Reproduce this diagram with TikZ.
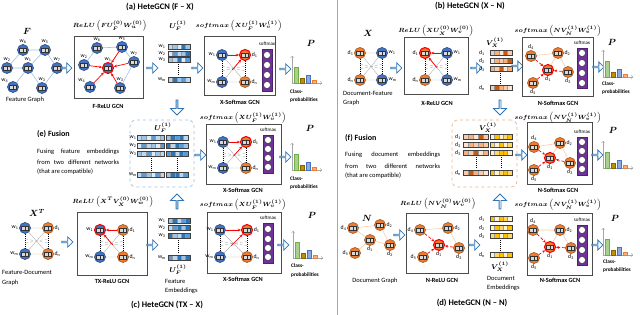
\documentclass[tikz,border=0pt]{standalone}
\usepackage{fontspec}
\setmainfont{Carlito}
\usepackage{amsmath,bm}
\usetikzlibrary{shapes.arrows,arrows.meta,calc}
\definecolor{nblue}{HTML}{4472C4}
\definecolor{nbluedk}{HTML}{2F528F}
\definecolor{norange}{HTML}{ED7D31}
\definecolor{norangedk}{HTML}{AE5A21}
\definecolor{arrblue}{HTML}{2E75B6}
\definecolor{smpurple}{HTML}{7030A0}
\definecolor{ub0}{HTML}{DEEBF7}
\definecolor{ub1}{HTML}{BDD7EE}
\definecolor{ub2}{HTML}{9DC3E6}
\definecolor{ub3}{HTML}{5B9BD5}
\definecolor{ub4}{HTML}{2E75B6}
\definecolor{op0}{HTML}{FBE5D6}
\definecolor{op1}{HTML}{F8CBAD}
\definecolor{op2}{HTML}{F4B183}
\definecolor{op3}{HTML}{C55A11}
\definecolor{yl0}{HTML}{FFF2CC}
\definecolor{yl2}{HTML}{FFD966}
\definecolor{yl3}{HTML}{FFC000}
\definecolor{bgreen}{HTML}{A9D18E}
\definecolor{bgreendk}{HTML}{70AD47}
\definecolor{bbrown}{HTML}{BF9000}
\definecolor{bblue}{HTML}{8FAADC}
\definecolor{borange}{HTML}{F4B183}
\newcommand\wsb[1]{w\textsubscript{#1}}
\newcommand\dsb[1]{d\textsubscript{#1}}
\newcommand\mrow[5]{%
  \foreach \mycol [count=\myi from 0] in {#5} {\filldraw[fill=\mycol,draw=black!40,line width=0.25pt] ({#1+\myi*#3},{#2-2.5}) rectangle ++(#3,5);}
  \draw[black!75,line width=0.4pt] ({#1},{#2-2.5}) rectangle ++({#3*#4},5);}
\newcommand\pchart[2]{%
  \draw[gray!70,line width=0.4pt,-{Straight Barb[length=1.5pt]}] (#1,#2) -- (#1,#2-27);
  \draw[gray!70,line width=0.4pt,-{Straight Barb[length=1.5pt]}] (#1,#2) -- (#1+30,#2);
  \filldraw[fill=bgreen,draw=bgreendk,line width=0.4pt] (#1+2,#2) rectangle (#1+6,#2-16);
  \filldraw[fill=bbrown,draw=bbrown!70!black,line width=0.4pt] (#1+8,#2) rectangle (#1+12,#2-5);
  \filldraw[fill=bblue,draw=nblue,line width=0.4pt] (#1+14,#2) rectangle (#1+18,#2-8);
  \filldraw[fill=borange,draw=norange,line width=0.4pt] (#1+20,#2) rectangle (#1+24,#2-3);}
\newcommand\bip[4]{%
  \draw[bedge] (#1) -- (#2) (#3) -- (#4) (#1) -- (#4) (#3) -- (#2);
  \draw[dotl] (#1) -- (#3) (#2) -- (#4);
  \draw[bedge,densely dashed] ($(#1)!0.42!(#3)$) -- ($(#2)!0.58!(#4)$) ($(#1)!0.58!(#3)$) -- ($(#2)!0.42!(#4)$);}
\tikzset{
  gnode/.style={circle,inner sep=0pt,minimum size=11pt,line width=0.7pt,
    path picture={\filldraw[fill=gray!30,draw=black!80,line width=0.45pt]
      ([xshift=-3.3pt,yshift=-1.9pt]path picture bounding box.center) rectangle ([xshift=3.3pt,yshift=1.9pt]path picture bounding box.center);
      \draw[black!80,line width=0.45pt] ([yshift=-1.9pt]path picture bounding box.center) -- ([yshift=1.9pt]path picture bounding box.center);}},
  bnd/.style={gnode,fill=nblue,draw=nbluedk},
  ond/.style={gnode,fill=norange,draw=norangedk},
  ring/.style={draw=red,line width=1.1pt},
  lbl/.style={font=\fontsize{5.8}{6}\selectfont,inner sep=0.6pt},
  txt/.style={font=\fontsize{6.5}{7.5}\selectfont,inner sep=0pt},
  tiny/.style={font=\fontsize{5}{6}\selectfont,inner sep=0pt},
  ttl/.style={font=\fontsize{8.5}{10}\selectfont\bfseries,inner sep=0pt},
  sec/.style={font=\fontsize{8}{9}\selectfont\bfseries,inner sep=0pt,anchor=west},
  blab/.style={font=\fontsize{6.3}{7}\selectfont\bfseries,inner sep=0pt},
  clab/.style={font=\fontsize{5.3}{6}\selectfont\bfseries,inner sep=0pt,anchor=west},
  fml/.style={font=\fontsize{6.2}{7}\selectfont,inner sep=0pt},
  mtl/.style={font=\fontsize{7.3}{8}\selectfont,inner sep=0pt},
  mlab/.style={font=\fontsize{9}{10}\selectfont,inner sep=0pt},
  gbox/.style={rectangle,draw=black!70,line width=1pt,inner sep=0pt},
  fusb/.style={rectangle,rounded corners=6pt,dashed,line width=0.7pt,inner sep=0pt},
  harr/.style={single arrow,draw=arrblue,fill=white,line width=0.8pt,minimum height=11pt,minimum width=10pt,single arrow head extend=2.5pt,inner sep=0pt},
  bigarr/.style={single arrow,draw=arrblue,fill=white,line width=0.8pt,minimum height=15pt,minimum width=13pt,single arrow head extend=2.5pt,inner sep=0pt},
  smcol/.style={rectangle,fill=smpurple,draw=smpurple!70!black,line width=0.5pt,inner sep=0pt},
  smc/.style={circle,fill=white,draw=black!80,line width=0.5pt,minimum size=7pt,inner sep=0pt},
  fedge/.style={draw=ub2,line width=0.6pt},
  dedge/.style={draw=op1,line width=0.6pt},
  bedge/.style={draw=gray!60,line width=0.4pt},
  dotl/.style={draw=black,line width=1pt,dash pattern=on 1pt off 1pt},
  redarr/.style={draw=red,line width=0.7pt,-{Stealth[length=3pt,width=2.6pt]}},
}
\begin{document}
\begin{tikzpicture}[x=1pt,y=-1pt]
\fill[white] (0,0) rectangle (640,315);
\useasboundingbox (0,0) rectangle (640,315);
\draw[gray!70,line width=0.8pt] (337,0) -- (337,315);

%%%%%%%% (a)
\node[ttl] (ta) at (160,7) {(a) HeteGCN (F – X)};
\node[mlab] (Fa) at (27,31) {$\bm{F}$};
\node[bnd,label={[lbl]above:\wsb{6}}] (fa1) at (23,50) {};
\node[bnd,label={[lbl]above:\wsb{5}}] (fa2) at (45,50) {};
\node[bnd,label={[lbl]above:\wsb{2}}] (fa3) at (7,68) {};
\node[bnd,label={[lbl]above:\wsb{1}}] (fa4) at (28,68) {};
\node[bnd,label={[lbl]above:\wsb{7}}] (fa5) at (57,68) {};
\node[bnd,label={[lbl]above left:\wsb{4}}] (fa6) at (13,87) {};
\node[bnd,label={[lbl]above:\wsb{3}}] (fa7) at (42,88) {};
\draw[fedge] (fa1) -- (fa2) (fa1) -- (fa3) (fa3) -- (fa4) (fa4) -- (fa2) (fa4) -- (fa6) (fa4) -- (fa7) (fa7) -- (fa5) (fa2) -- (fa5);
\node[txt] (fgt) at (25,100) {Feature Graph};
\node[harr] (aa1) at (66,68) {};
\node[gbox,minimum width=69pt,minimum height=62pt] (ba1) at (108.5,68) {};
\node[fml] (ba1f) at (110,26) {$\bm{ReLU}\left(\bm{FU_F^{(0)}W_u^{(0)}}\right)$};
\node[blab] (ba1l) at (108,106) {F-ReLU GCN};
\node[bnd,label={[lbl]above:\wsb{6}}] (f1) at (97,48) {};
\node[bnd,label={[lbl]above:\wsb{5}}] (f2) at (122,47) {};
\node[bnd,label={[lbl]above:\wsb{2}}] (f3) at (84,65) {};
\node[bnd,ring,label={[lbl]above:\wsb{1}}] (fc) at (108,68) {};
\node[bnd,label={[lbl]above:\wsb{7}}] (f5) at (134,62) {};
\node[bnd,label={[lbl]above left:\wsb{4}}] (f6) at (90,87) {};
\node[bnd,label={[lbl]above:\wsb{3}}] (f7) at (120,88) {};
\draw[fedge] (f1) -- (f2) (f1) -- (f3) (f2) -- (f5) (f5) -- (f7);
\draw[redarr] (f3) -- (fc);
\draw[redarr] (f2) -- (fc);
\draw[redarr] (f6) -- (fc);
\draw[redarr] (f7) -- (fc);
\draw[redarr] (f5) -- (fc);
\node[harr] (aa2) at (152,68) {};
\node[mtl] (ua) at (178,26) {$\bm{U_F^{(1)}}$};
\node[lbl] (ua1) at (162,47) {\wsb{1}};
\node[lbl] (ua2) at (162,53.5) {\wsb{2}};
\node[lbl] (ua3) at (162,60) {\wsb{3}};
\node[lbl] (uam) at (162,80) {\wsb{m}};
\mrow{168}{47}{4.4}{5}{ub1,ub2,ub0,ub4,ub2}
\mrow{168}{53.5}{4.4}{5}{ub0,ub3,ub1,ub2,ub4}
\mrow{168}{60}{4.4}{5}{ub2,ub1,ub4,ub0,ub3}
\mrow{168}{80}{4.4}{5}{ub1,ub4,ub2,ub3,ub1}
\draw[dotl] (178,64) -- (178,76);
\node[bigarr,shape border rotate=270] (aa3) at (177,107) {};
\node[harr] (aa4) at (197,68) {};
\node[gbox,minimum width=71pt,minimum height=59pt] (ba2) at (239.5,66.5) {};
\node[fml] (ba2f) at (239,26) {$\bm{softmax}\left(\bm{XU_F^{(1)}W_v^{(1)}}\right)$};
\node[blab] (ba2l) at (240,102) {X-Softmax GCN};
\node[bnd,label={[lbl]left:\wsb{1}}] (xa1) at (222,55) {};
\node[ond,ring,label={[lbl]right:\dsb{1}}] (xa2) at (245,55) {};
\node[bnd,label={[lbl]left:\wsb{m}}] (xa3) at (222,82) {};
\node[ond,label={[lbl]right:\dsb{n}}] (xa4) at (245,82) {};
\bip{xa1}{xa2}{xa3}{xa4}
\draw[redarr] (xa1) -- (xa2);
\draw[redarr,shorten <=10pt] (xa3) -- (xa2);
\node[smcol,minimum width=10pt,minimum height=42pt] (sma) at (267,70) {};
\node[tiny] (smat) at (267,44) {softmax};
\node[smc] (sma1) at (267,55) {};
\node[smc] (sma2) at (267,65) {};
\node[smc] (sma3) at (267,75) {};
\node[smc] (sma4) at (267,85) {};
\node[harr] (aa5) at (285,69) {};
\pchart{292}{83}
\node[mlab] (Pa) at (311,43) {$\bm{P}$};
\node[clab] (ca1) at (290,92) {Class-};
\node[clab] (ca2) at (290,100) {probabilities};

%%%%%%%% (e)
\node[sec] (te) at (37,134) {(e) Fusion};
\node[txt,anchor=west] (te1) at (37,152) {\makebox[82pt][s]{Fusing feature embeddings}};
\node[txt,anchor=west] (te2) at (37,162) {\makebox[82pt][s]{from two different networks}};
\node[txt,anchor=west] (te3) at (37,172) {(that are compatible)};
\node[fusb,draw=ub2,minimum width=64pt,minimum height=67pt] (fe) at (162,153.5) {};
\node[mtl] (ue) at (163,128) {$\bm{U_F^{(1)}}$};
\node[lbl] (ue1) at (133,138) {\wsb{1}};
\node[lbl] (ue2) at (133,146) {\wsb{2}};
\node[lbl] (ue3) at (133,154) {\wsb{3}};
\node[lbl] (uem) at (133,175) {\wsb{m}};
\mrow{137}{138}{4.6}{6}{ub1,ub2,ub0,ub3,ub1,ub2}
\mrow{166}{138}{4.4}{5}{ub2,ub4,ub3,ub4,ub1}
\mrow{137}{146}{4.6}{6}{ub0,ub3,ub1,ub2,ub0,ub3}
\mrow{166}{146}{4.4}{5}{ub4,ub1,ub4,ub3,ub2}
\mrow{137}{154}{4.6}{6}{ub2,ub1,ub3,ub0,ub2,ub1}
\mrow{166}{154}{4.4}{5}{ub3,ub4,ub1,ub4,ub3}
\mrow{137}{175}{4.6}{6}{ub1,ub3,ub2,ub0,ub3,ub1}
\mrow{166}{175}{4.4}{5}{ub2,ub4,ub4,ub1,ub3}
\draw[dotl] (151,158) -- (151,171);
\draw[dotl] (177,158) -- (177,171);
\node[bigarr,shape border rotate=90] (ae1) at (177,202) {};
\node[harr] (ae2) at (200,155) {};
\node[gbox,minimum width=75pt,minimum height=60pt] (be) at (243.5,155) {};
\node[fml] (bef) at (243,118) {$\bm{softmax}\left(\bm{XU_F^{(1)}W_v^{(1)}}\right)$};
\node[blab] (bel) at (243,190) {X-Softmax GCN};
\node[bnd,label={[lbl]left:\wsb{1}}] (xe1) at (223,142) {};
\node[ond,ring,label={[lbl]right:\dsb{1}}] (xe2) at (246,142) {};
\node[bnd,label={[lbl]left:\wsb{m}}] (xe3) at (223,168) {};
\node[ond,label={[lbl]right:\dsb{n}}] (xe4) at (246,168) {};
\bip{xe1}{xe2}{xe3}{xe4}
\draw[redarr] (xe1) -- (xe2);
\draw[redarr,shorten <=10pt] (xe3) -- (xe2);
\node[smcol,minimum width=10pt,minimum height=38pt] (sme) at (268,154) {};
\node[tiny] (smet) at (268,130) {softmax};
\node[smc] (sme1) at (268,140) {};
\node[smc] (sme2) at (268,149) {};
\node[smc] (sme3) at (268,158) {};
\node[smc] (sme4) at (268,167) {};
\node[harr] (ae3) at (285,157) {};
\pchart{292}{170}
\node[mlab] (Pe) at (310,128) {$\bm{P}$};
\node[clab] (ce1) at (290,179) {Class-};
\node[clab] (ce2) at (290,187) {probabilities};

%%%%%%%% (c)
\node[mlab] (XT) at (37,213) {$\bm{X^T}$};
\node[bnd,label={[lbl]left:\wsb{1}}] (cw1) at (25,228) {};
\node[ond,label={[lbl]right:\dsb{1}}] (cd1) at (48,228) {};
\node[bnd,label={[lbl]left:\wsb{m}}] (cw2) at (25,254) {};
\node[ond,label={[lbl]right:\dsb{n}}] (cd2) at (48,254) {};
\bip{cw1}{cd1}{cw2}{cd2}
\node[txt,anchor=west] (cg1) at (2,272) {Feature-Document};
\node[txt,anchor=west] (cg2) at (2,283) {Graph};
\node[harr] (ac1) at (67,242) {};
\node[gbox,minimum width=70pt,minimum height=62pt] (bc1) at (112,244) {};
\node[fml] (bc1f) at (113,202) {$\bm{ReLU}\left(\bm{X^TV_X^{(0)}W_w^{(0)}}\right)$};
\node[blab] (bc1l) at (112,281) {TX-ReLU GCN};
\node[bnd,ring,label={[lbl]left:\wsb{1}}] (tw1) at (100,230) {};
\node[ond,label={[lbl]right:\dsb{1}}] (td1) at (123,230) {};
\node[bnd,label={[lbl]left:\wsb{m}}] (tw2) at (100,257) {};
\node[ond,label={[lbl]right:\dsb{n}}] (td2) at (123,257) {};
\bip{tw1}{td1}{tw2}{td2}
\draw[redarr] (td1) -- (tw1);
\draw[redarr,shorten <=10pt] (td2) -- (tw1);
\node[harr] (ac2) at (152,245) {};
\node[lbl] (uc1) at (162,221) {\wsb{1}};
\node[lbl] (uc2) at (162,228) {\wsb{2}};
\node[lbl] (uc3) at (162,236) {\wsb{3}};
\node[lbl] (ucm) at (162,258) {\wsb{m}};
\mrow{168}{221}{4.4}{5}{ub2,ub4,ub1,ub3,ub4}
\mrow{168}{228}{4.4}{5}{ub1,ub3,ub4,ub2,ub4}
\mrow{168}{236}{4.4}{5}{ub4,ub2,ub1,ub4,ub3}
\mrow{168}{258}{4.4}{5}{ub3,ub1,ub4,ub2,ub4}
\draw[dotl] (178,240) -- (178,253);
\node[mtl] (uc) at (178,270) {$\bm{U_F^{(1)}}$};
\node[txt,anchor=west] (uct1) at (165,281) {Feature};
\node[txt,anchor=west] (uct2) at (165,291) {Embeddings};
\node[gbox,minimum width=74pt,minimum height=60pt] (bc2) at (244,243) {};
\node[fml] (bc2f) at (243,205) {$\bm{softmax}\left(\bm{XU_F^{(1)}W_v^{(1)}}\right)$};
\node[blab] (bc2l) at (243,279) {X-Softmax GCN};
\node[bnd,label={[lbl]left:\wsb{1}}] (cx1) at (220,230) {};
\node[ond,ring,label={[lbl]right:\dsb{1}}] (cx2) at (247,230) {};
\node[bnd,label={[lbl]left:\wsb{m}}] (cx3) at (220,257) {};
\node[ond,label={[lbl]right:\dsb{n}}] (cx4) at (247,257) {};
\bip{cx1}{cx2}{cx3}{cx4}
\draw[redarr] (cx1) -- (cx2);
\draw[redarr,shorten <=10pt] (cx3) -- (cx2);
\node[smcol,minimum width=10pt,minimum height=40pt] (smc) at (268,243) {};
\node[tiny] (smct) at (268,218) {softmax};
\node[smc] (smc1) at (268,229) {};
\node[smc] (smc2) at (268,239) {};
\node[smc] (smc3) at (268,248) {};
\node[smc] (smc4) at (268,257) {};
\node[harr] (ac3) at (283,245) {};
\pchart{293}{258}
\node[mlab] (Pc) at (312,215) {$\bm{P}$};
\node[clab] (cc1) at (291,266) {Class-};
\node[clab] (cc2) at (291,275) {probabilities};
\node[ttl] (tc) at (167,305) {(c) HeteGCN (TX – X)};

%%%%%%%% (b)
\node[ttl] (tb) at (470,6) {(b) HeteGCN (X – N)};
\node[mlab] (Xb) at (368,33) {$\bm{X}$};
\node[ond,label={[lbl]left:\dsb{1}}] (bd1) at (360,53) {};
\node[bnd,label={[lbl]right:\wsb{1}}] (bw1) at (382,53) {};
\node[ond,label={[lbl]left:\dsb{n}}] (bd2) at (360,80) {};
\node[bnd,label={[lbl]right:\wsb{m}}] (bw2) at (382,80) {};
\bip{bd1}{bw1}{bd2}{bw2}
\node[txt,anchor=west] (bg1) at (343,93) {Document-Feature};
\node[txt,anchor=west] (bg2) at (343,103) {Graph};
\node[harr] (ab1) at (396,68) {};
\node[gbox,minimum width=64pt,minimum height=57pt] (bb1) at (436,66.5) {};
\node[fml] (bb1f) at (436,31) {$\bm{ReLU}\left(\bm{XU_X^{(0)}W_v^{(0)}}\right)$};
\node[blab] (bb1l) at (437,103) {X-ReLU GCN};
\node[ond,ring,label={[lbl]left:\dsb{1}}] (xd1) at (425,53) {};
\node[bnd,label={[lbl]right:\wsb{1}}] (xw1) at (447,53) {};
\node[ond,label={[lbl]left:\dsb{n}}] (xd2) at (425,80) {};
\node[bnd,label={[lbl]right:\wsb{m}}] (xw2) at (447,80) {};
\bip{xd1}{xw1}{xd2}{xw2}
\draw[redarr] (xw1) -- (xd1);
\draw[redarr,shorten <=10pt] (xw2) -- (xd1);
\node[harr] (ab2) at (476,68) {};
\node[mtl] (vb) at (495,43) {$\bm{V_X^{(1)}}$};
\node[lbl] (vb1) at (482,53) {\dsb{1}};
\node[lbl] (vb2) at (482,61) {\dsb{2}};
\node[lbl] (vb3) at (482,69) {\dsb{3}};
\node[lbl] (vbn) at (482,88) {\dsb{n}};
\mrow{490}{53}{4.4}{5}{op1,op2,op0,op3,op1}
\mrow{490}{61}{4.4}{5}{op0,op2,op1,op2,op3}
\mrow{490}{69}{4.4}{5}{op2,op1,op3,op0,op2}
\mrow{490}{88}{4.4}{5}{op1,op3,op2,op1,op0}
\draw[dotl] (500,73) -- (500,84);
\node[bigarr,shape border rotate=270] (ab3) at (500,107) {};
\node[harr] (ab4) at (517,66) {};
\node[gbox,minimum width=71pt,minimum height=59pt] (bb2) at (557.5,67.5) {};
\node[fml] (bb2f) at (558,31) {$\bm{softmax}\left(\bm{NV_N^{(1)}W_v^{(1)}}\right)$};
\node[blab] (bb2l) at (558,103) {N-Softmax GCN};
\node[ond,label={[lbl]above:\dsb{4}}] (nd4) at (531,56) {};
\node[ond,label={[lbl]right:\dsb{2}}] (nd2) at (558,53) {};
\node[ond,ring,label={[lbl]below:\dsb{1}}] (nd1) at (548,70) {};
\node[ond,label={[lbl]below:\dsb{3}}] (nd3) at (568,72) {};
\node[ond,label={[lbl]below:\dsb{5}}] (nd5) at (533,83) {};
\draw[dedge] (nd4) -- (nd2) (nd2) -- (nd3) (nd2) -- (nd1);
\draw[redarr,densely dashed] (nd4) -- (nd1);
\draw[redarr,densely dashed] (nd5) -- (nd1);
\draw[redarr,densely dashed] (nd3) -- (nd1);
\node[smcol,minimum width=10pt,minimum height=40pt] (smb) at (582,68) {};
\node[tiny] (smbt) at (582,43) {softmax};
\node[smc] (smb1) at (582,53) {};
\node[smc] (smb2) at (582,63) {};
\node[smc] (smb3) at (582,73) {};
\node[smc] (smb4) at (582,83) {};
\node[harr] (ab5) at (598,67) {};
\pchart{603}{77}
\node[mlab] (Pb) at (612,42) {$\bm{P}$};
\node[clab] (cb1) at (602,84) {Class-};
\node[clab] (cb2) at (602,92) {probabilities};

%%%%%%%% (f)
\node[sec] (tf) at (345,138) {(f) Fusion};
\node[txt,anchor=west] (tf1) at (345,155) {\makebox[95pt][s]{Fusing document embeddings}};
\node[txt,anchor=west] (tf2) at (345,166) {\makebox[95pt][s]{from two different networks}};
\node[txt,anchor=west] (tf3) at (345,176) {(that are compatible)};
\node[fusb,draw=op2,minimum width=65pt,minimum height=67pt] (ff) at (484.5,153.5) {};
\node[mtl] (vf) at (488,128) {$\bm{V_X^{(1)}}$};
\node[lbl] (vf1) at (458,137) {\dsb{1}};
\node[lbl] (vf2) at (458,145) {\dsb{2}};
\node[lbl] (vf3) at (458,153) {\dsb{3}};
\node[lbl] (vfn) at (458,173) {\dsb{n}};
\mrow{463}{137}{5}{5}{op1,op2,op0,op3,op1}
\mrow{490}{137}{4.4}{5}{yl0,yl3,yl0,yl2,yl3}
\mrow{463}{145}{5}{5}{op0,op2,op1,op2,op1}
\mrow{490}{145}{4.4}{5}{yl2,yl0,yl3,yl0,yl2}
\mrow{463}{153}{5}{5}{op2,op1,op3,op0,op2}
\mrow{490}{153}{4.4}{5}{yl0,yl2,yl3,yl3,yl0}
\mrow{463}{173}{5}{5}{op1,op3,op2,op1,op0}
\mrow{490}{173}{4.4}{5}{yl3,yl0,yl2,yl3,yl2}
\draw[dotl] (476,157) -- (476,169);
\draw[dotl] (501,157) -- (501,169);
\node[bigarr,shape border rotate=90] (af1) at (500,202) {};
\node[harr] (af2) at (521,155) {};
\node[gbox,minimum width=65pt,minimum height=62pt] (bf) at (559.5,154) {};
\node[fml] (bff) at (558,118) {$\bm{softmax}\left(\bm{NV_N^{(1)}W_v^{(1)}}\right)$};
\node[blab] (bfl) at (558,190) {N-Softmax GCN};
\node[ond,label={[lbl]above:\dsb{4}}] (fd4) at (534,147) {};
\node[ond,label={[lbl]right:\dsb{2}}] (fd2) at (560,143) {};
\node[ond,ring,label={[lbl]below:\dsb{1}}] (fd1) at (550,158) {};
\node[ond,label={[lbl]below:\dsb{3}}] (fd3) at (570,163) {};
\node[ond,label={[lbl]below:\dsb{5}}] (fd5) at (534,170) {};
\draw[dedge] (fd4) -- (fd2) (fd2) -- (fd3) (fd2) -- (fd1);
\draw[redarr,densely dashed] (fd4) -- (fd1);
\draw[redarr,densely dashed] (fd5) -- (fd1);
\draw[redarr,densely dashed] (fd3) -- (fd1);
\node[smcol,minimum width=10pt,minimum height=38pt] (smf) at (582,156) {};
\node[tiny] (smft) at (582,132) {softmax};
\node[smc] (smf1) at (582,142) {};
\node[smc] (smf2) at (582,151) {};
\node[smc] (smf3) at (582,160) {};
\node[smc] (smf4) at (582,169) {};
\node[harr] (af3) at (597,155) {};
\pchart{603}{168}
\node[mlab] (Pf) at (613,130) {$\bm{P}$};

%%%%%%%% (d)
\node[mlab] (Nd) at (367,218) {$\bm{N}$};
\node[ond,label={[lbl]left:\dsb{4}}] (gd4) at (353,228) {};
\node[ond,label={[lbl]right:\dsb{2}}] (gd2) at (380,225) {};
\node[ond,label={[lbl]below:\dsb{1}}] (gd1) at (370,240) {};
\node[ond,label={[lbl]below:\dsb{3}}] (gd3) at (390,245) {};
\node[ond,label={[lbl]left:\dsb{5}}] (gd5) at (355,253) {};
\draw[dedge] (gd4) -- (gd2) (gd4) -- (gd1) (gd1) -- (gd3) (gd2) -- (gd3) (gd5) -- (gd1);
\node[txt] (dgt) at (375,281) {Document Graph};
\node[harr] (ad1) at (399,235) {};
\node[gbox,minimum width=62pt,minimum height=59pt] (bd1b) at (437,243.5) {};
\node[fml] (bd1f) at (438,204) {$\bm{ReLU}\left(\bm{NV_N^{(0)}W_v^{(0)}}\right)$};
\node[blab] (bd1l) at (442,280) {N-ReLU GCN};
\node[ond,label={[lbl]left:\dsb{4}}] (rd4) at (420,230) {};
\node[ond,label={[lbl]right:\dsb{2}}] (rd2) at (448,228) {};
\node[ond,ring,label={[lbl]below:\dsb{1}}] (rd1) at (439,245) {};
\node[ond,label={[lbl]below:\dsb{3}}] (rd3) at (459,248) {};
\node[ond,label={[lbl]left:\dsb{5}}] (rd5) at (423,257) {};
\draw[dedge] (rd4) -- (rd2) (rd2) -- (rd3);
\draw[redarr,densely dashed] (rd4) -- (rd1);
\draw[redarr,densely dashed] (rd5) -- (rd1);
\draw[redarr,densely dashed] (rd3) -- (rd1);
\node[harr] (ad2) at (474,245) {};
\node[lbl] (vd1) at (482,219) {\dsb{1}};
\node[lbl] (vd2) at (482,228) {\dsb{2}};
\node[lbl] (vd3) at (482,236) {\dsb{3}};
\node[lbl] (vdn) at (482,255) {\dsb{n}};
\mrow{490}{219}{4.4}{5}{yl3,yl0,yl3,yl2,yl0}
\mrow{490}{228}{4.4}{5}{yl0,yl3,yl2,yl0,yl3}
\mrow{490}{236}{4.4}{5}{yl2,yl3,yl0,yl3,yl2}
\mrow{490}{255}{4.4}{5}{yl0,yl2,yl3,yl0,yl3}
\draw[dotl] (500,240) -- (500,251);
\node[mtl] (vd) at (500,267) {$\bm{V_X^{(1)}}$};
\node[txt,anchor=west] (vdt1) at (487,278) {Document};
\node[txt,anchor=west] (vdt2) at (487,288) {Embeddings};
\node[gbox,minimum width=65pt,minimum height=61pt] (bd2b) at (559.5,244.5) {};
\node[fml] (bd2f) at (558,205) {$\bm{softmax}\left(\bm{NV_N^{(1)}W_v^{(1)}}\right)$};
\node[blab] (bd2l) at (560,280) {N-Softmax GCN};
\node[ond,label={[lbl]above:\dsb{4}}] (sd4) at (533,230) {};
\node[ond,label={[lbl]right:\dsb{2}}] (sd2) at (560,230) {};
\node[ond,ring,label={[lbl]below:\dsb{1}}] (sd1) at (550,247) {};
\node[ond,label={[lbl]below:\dsb{3}}] (sd3) at (571,248) {};
\node[ond,label={[lbl]below:\dsb{5}}] (sd5) at (534,258) {};
\draw[dedge] (sd4) -- (sd2) (sd2) -- (sd3) (sd2) -- (sd1);
\draw[redarr,densely dashed] (sd4) -- (sd1);
\draw[redarr,densely dashed] (sd5) -- (sd1);
\draw[redarr,densely dashed] (sd3) -- (sd1);
\node[smcol,minimum width=10pt,minimum height=40pt] (smd) at (582,245) {};
\node[tiny] (smdt) at (582,220) {softmax};
\node[smc] (smd1) at (582,230) {};
\node[smc] (smd2) at (582,240) {};
\node[smc] (smd3) at (582,250) {};
\node[smc] (smd4) at (582,260) {};
\node[harr] (ad3) at (597,245) {};
\pchart{603}{255}
\node[mlab] (Pd) at (615,218) {$\bm{P}$};
\node[clab] (cd1x) at (603,262) {Class-};
\node[clab] (cd2x) at (603,270) {probabilities};
\node[ttl] (td) at (472,303) {(d) HeteGCN (N – N)};
\end{tikzpicture}
\end{document}
